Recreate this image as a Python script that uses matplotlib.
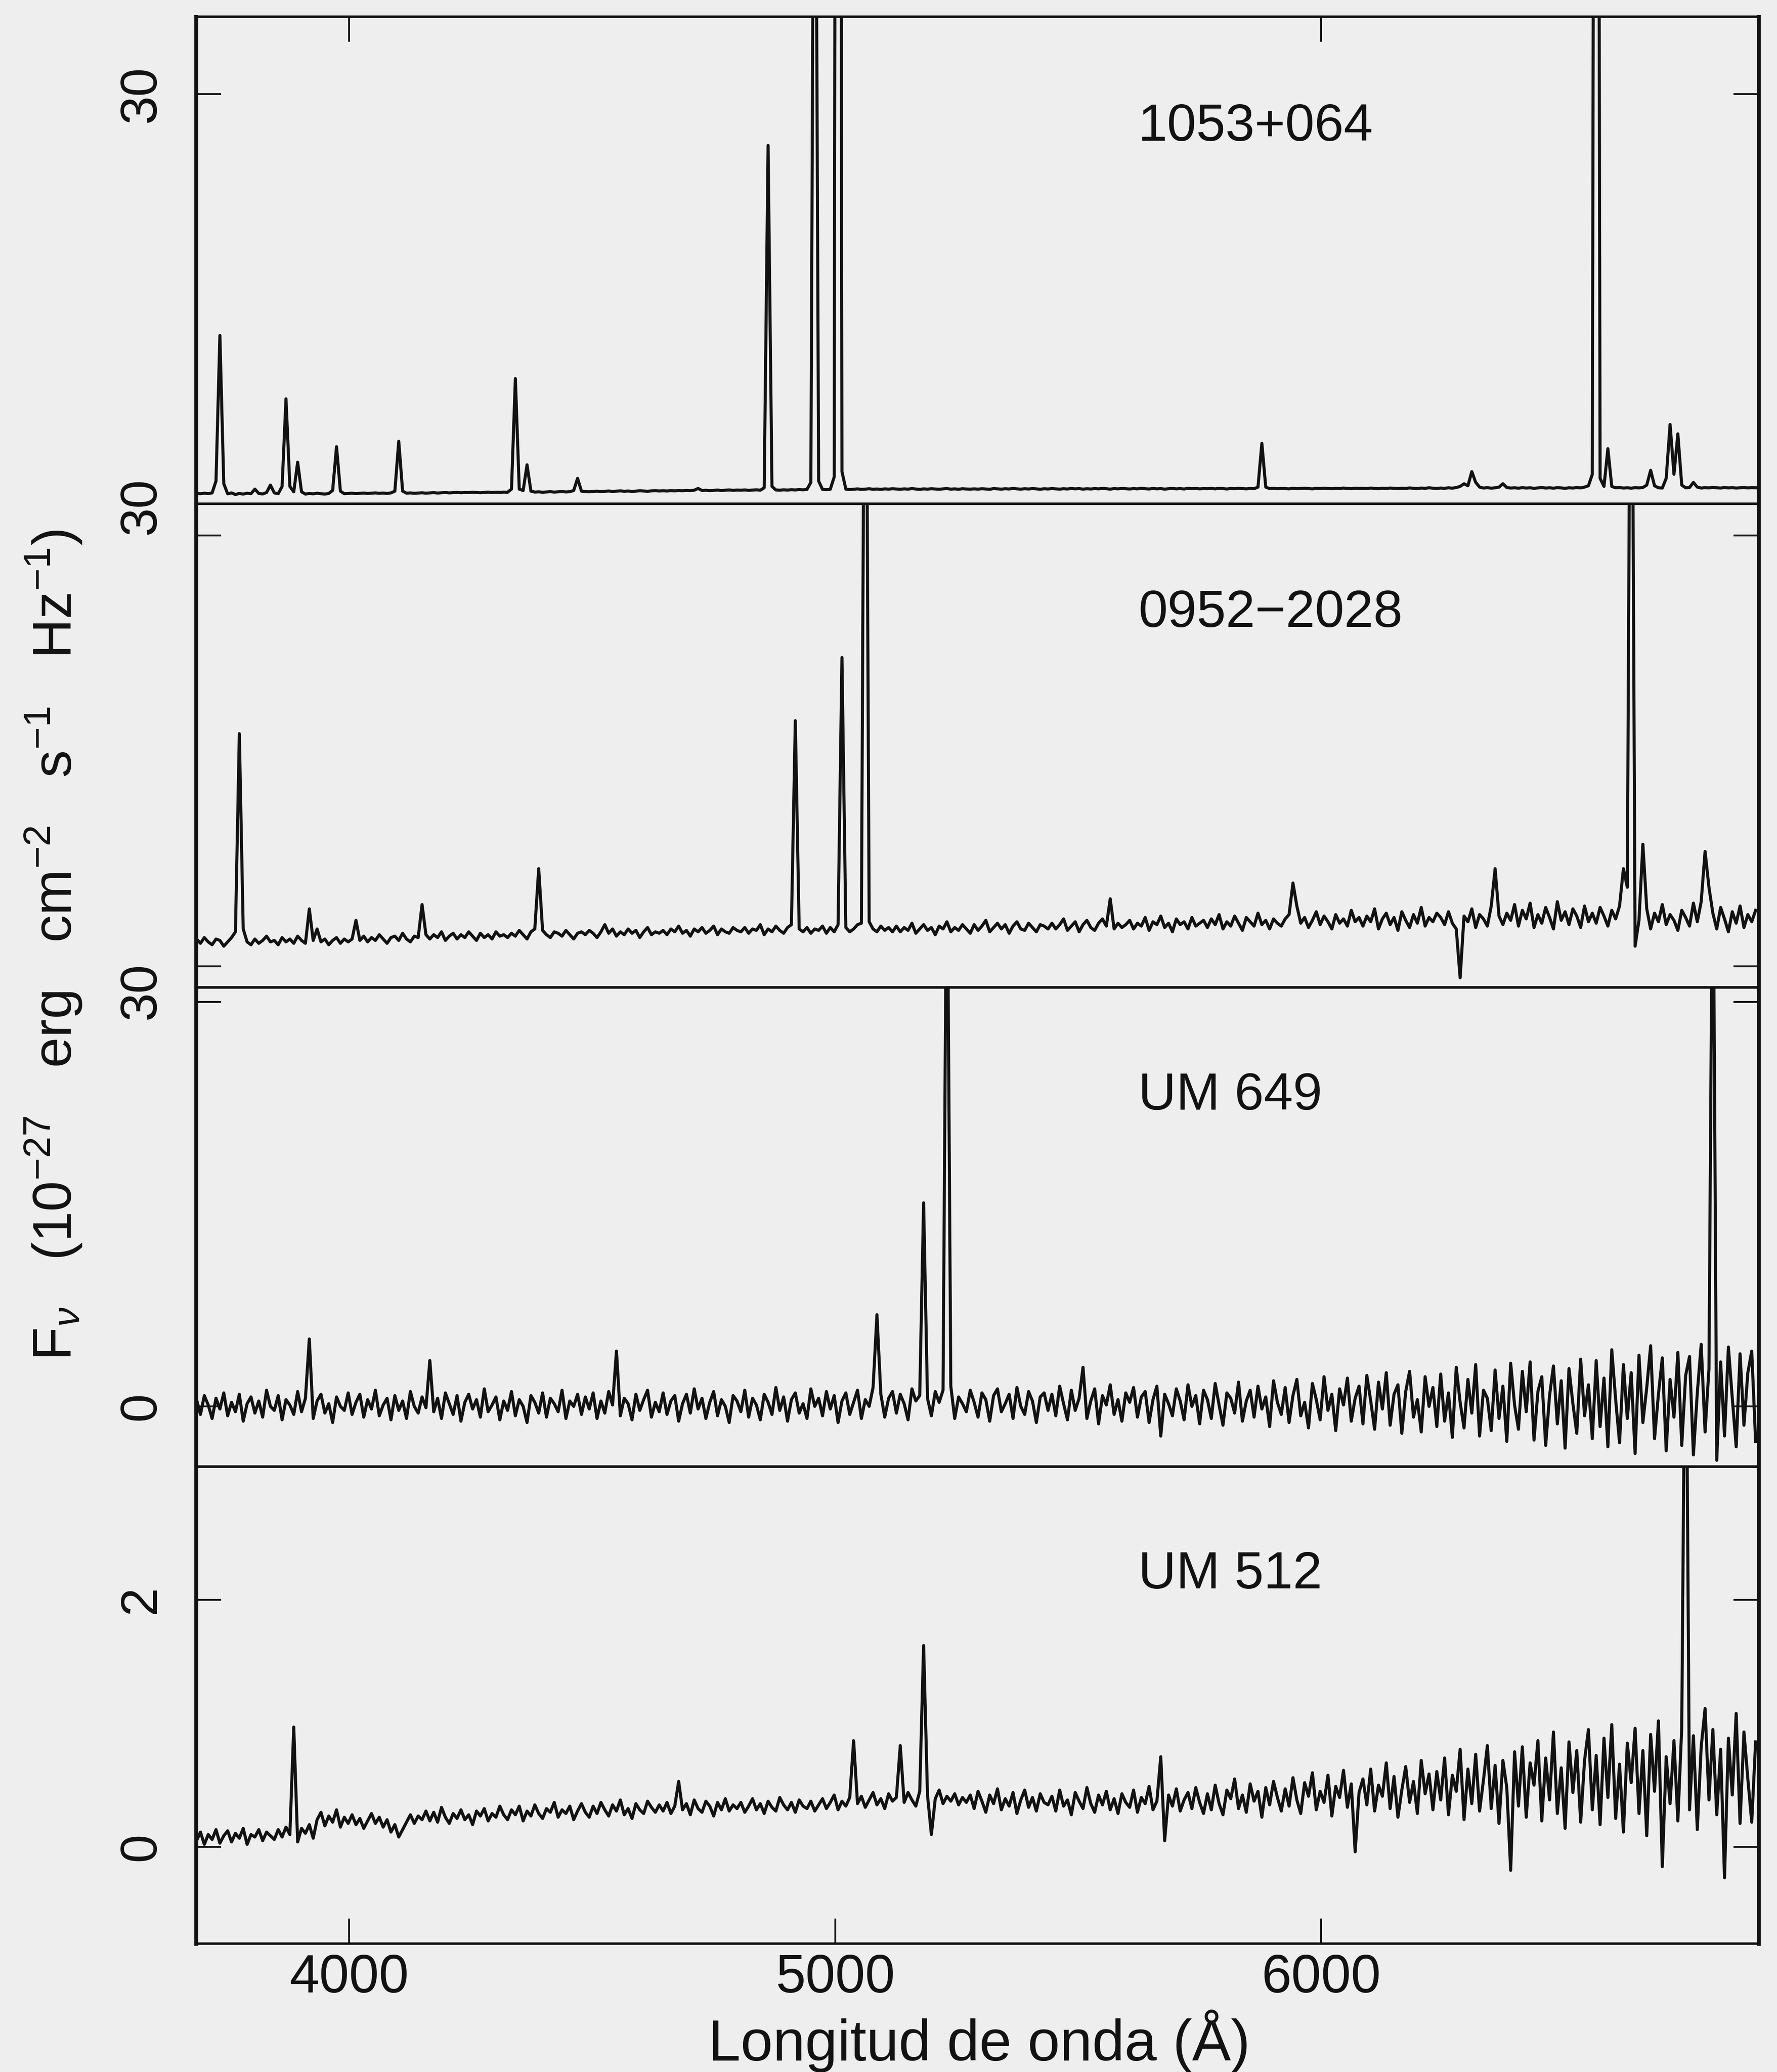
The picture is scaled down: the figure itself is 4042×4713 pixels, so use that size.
import numpy as np
import matplotlib
matplotlib.use("Agg")
import matplotlib.pyplot as plt
from matplotlib import transforms

plt.rcParams["font.family"] = ["Liberation Sans", "DejaVu Sans"]
plt.rcParams["mathtext.fontset"] = "custom"
plt.rcParams["mathtext.rm"] = "Liberation Sans"
plt.rcParams["mathtext.it"] = "Liberation Sans:italic"

# Wavelength sampling of all four spectra (Angstrom)
WAVE_START = 3686
WAVE_STEP = 8

# F_nu in units of 1e-27 erg cm^-2 s^-1 Hz^-1, one value per sample
flux_1053 = [
    0.38, 0.36, 0.40, 0.37, 0.42, 1.3, 12.1, 1.1, 0.35, 0.42, 0.30, 0.38, 0.33, 0.40, 0.36, 0.70, 0.38, 0.34, 0.45, 1.00,
    0.42, 0.36, 0.9, 7.4, 0.9, 0.5, 2.7, 0.5, 0.33, 0.38, 0.35, 0.40, 0.36, 0.33, 0.38, 0.6, 3.85, 0.55, 0.36, 0.38,
    0.40, 0.37, 0.39, 0.41, 0.38, 0.40, 0.42, 0.39, 0.41, 0.38, 0.42, 0.55, 4.25, 0.55, 0.40, 0.42, 0.39, 0.41, 0.43, 0.40,
    0.42, 0.44, 0.41, 0.43, 0.45, 0.42, 0.44, 0.46, 0.43, 0.45, 0.44, 0.47, 0.45, 0.43, 0.46, 0.48, 0.45, 0.47, 0.46, 0.48,
    0.47, 0.7, 8.9, 0.7, 0.6, 2.5, 0.55, 0.48, 0.50, 0.47, 0.49, 0.51, 0.48, 0.50, 0.52, 0.49, 0.51, 0.6, 1.5, 0.55,
    0.52, 0.50, 0.53, 0.55, 0.52, 0.54, 0.56, 0.53, 0.55, 0.57, 0.54, 0.56, 0.53, 0.55, 0.58, 0.56, 0.54, 0.57, 0.59, 0.56,
    0.58, 0.56, 0.59, 0.57, 0.60, 0.58, 0.61, 0.59, 0.62, 0.75, 0.60, 0.62, 0.59, 0.61, 0.63, 0.60, 0.62, 0.64, 0.61, 0.63,
    0.62, 0.64, 0.61, 0.63, 0.65, 0.62, 0.8, 26.2, 0.9, 0.64, 0.62, 0.65, 0.63, 0.66, 0.64, 0.67, 0.65, 0.68, 1.2, 70.0,
    1.3, 0.68, 0.66, 0.69, 1.6, 200.0, 2.0, 0.70, 0.67, 0.69, 0.72, 0.68, 0.70, 0.73, 0.69, 0.71, 0.68, 0.72, 0.70, 0.73,
    0.71, 0.69, 0.72, 0.70, 0.74, 0.71, 0.68, 0.72, 0.70, 0.73, 0.71, 0.69, 0.72, 0.74, 0.70, 0.72, 0.69, 0.73, 0.71, 0.70,
    0.72, 0.70, 0.73, 0.71, 0.69, 0.74, 0.72, 0.70, 0.73, 0.71, 0.75, 0.72, 0.70, 0.73, 0.71, 0.74, 0.72, 0.69, 0.73, 0.71,
    0.74, 0.72, 0.70, 0.73, 0.71, 0.75, 0.72, 0.74, 0.70, 0.73, 0.71, 0.74, 0.72, 0.75, 0.73, 0.70, 0.74, 0.72, 0.75, 0.73,
    0.71, 0.74, 0.72, 0.76, 0.73, 0.71, 0.75, 0.72, 0.74, 0.70, 0.73, 0.75, 0.72, 0.74, 0.71, 0.76, 0.73, 0.75, 0.72, 0.74,
    0.73, 0.75, 0.72, 0.76, 0.74, 0.71, 0.75, 0.73, 0.76, 0.74, 0.72, 0.75, 0.73, 0.85, 4.1, 0.85, 0.74, 0.76, 0.73, 0.75,
    0.74, 0.72, 0.76, 0.73, 0.75, 0.77, 0.74, 0.72, 0.76, 0.74, 0.77, 0.75, 0.73, 0.76, 0.74, 0.78, 0.75, 0.73, 0.77, 0.75,
    0.76, 0.74, 0.78, 0.75, 0.73, 0.77, 0.75, 0.78, 0.76, 0.74, 0.77, 0.75, 0.79, 0.76, 0.74, 0.78, 0.76, 0.80, 0.77, 0.75,
    0.78, 0.76, 0.80, 0.77, 0.82, 0.9, 1.1, 0.95, 2.0, 1.2, 0.85, 0.78, 0.81, 0.77, 0.80, 0.85, 1.1, 0.82, 0.78, 0.80,
    0.77, 0.81, 0.78, 0.80, 0.76, 0.79, 0.82, 0.78, 0.80, 0.77, 0.81, 0.79, 0.76, 0.80, 0.78, 0.82, 0.79, 0.85, 0.95, 1.8,
    150.0, 1.5, 0.9, 3.7, 0.9, 0.8, 0.82, 0.78, 0.80, 0.77, 0.81, 0.79, 0.82, 1.0, 2.1, 0.95, 0.80, 0.78, 1.5, 5.5,
    1.8, 4.8, 1.0, 0.80, 0.82, 1.2, 0.85, 0.78, 0.81, 0.79, 0.83, 0.80, 0.78, 0.82, 0.79, 0.81, 0.78, 0.80, 0.82, 0.79,
    0.81, 0.80,
]

flux_0952 = [
    1.9, 1.6, 2.0, 1.7, 1.5, 1.9, 1.8, 1.4, 1.7, 2.0, 2.4, 16.2, 2.6, 1.7, 1.5, 1.9, 1.6, 1.8, 2.1, 1.7,
    1.8, 1.5, 2.0, 1.7, 1.9, 1.6, 2.1, 1.8, 1.6, 4.0, 1.8, 2.6, 1.7, 1.9, 1.5, 1.8, 2.0, 1.6, 1.9, 1.7,
    1.9, 3.2, 1.8, 2.1, 1.7, 2.0, 1.8, 2.2, 1.9, 1.6, 2.0, 2.1, 1.8, 2.3, 1.9, 1.7, 2.1, 2.0, 4.3, 2.2,
    1.9, 2.2, 2.0, 2.4, 1.8, 2.1, 2.3, 1.9, 2.2, 2.0, 2.4, 2.1, 1.8, 2.3, 2.0, 2.2, 1.9, 2.4, 2.1, 2.2,
    2.0, 2.3, 2.1, 2.5, 2.2, 1.9, 2.4, 2.6, 6.8, 2.5, 2.2, 2.0, 2.4, 2.3, 2.1, 2.5, 2.2, 1.9, 2.3, 2.4,
    2.2, 2.5, 2.3, 2.0, 2.4, 2.9, 2.3, 2.6, 2.1, 2.4, 2.2, 2.6, 2.3, 2.5, 2.0, 2.4, 2.7, 2.2, 2.4, 2.3,
    2.5, 2.2, 2.6, 2.4, 2.8, 2.3, 2.5, 2.1, 2.6, 2.4, 2.7, 2.3, 2.5, 2.8, 2.2, 2.6, 2.4, 2.3, 2.7, 2.5,
    2.4, 2.7, 2.3, 2.6, 2.5, 2.9, 2.2, 2.6, 2.4, 2.8, 2.5, 2.3, 2.7, 2.9, 17.1, 2.6, 2.4, 2.7, 2.3, 2.6,
    2.5, 2.8, 2.3, 2.7, 2.4, 2.9, 21.5, 2.7, 2.4, 2.6, 2.9, 3.0, 60.0, 3.1, 2.6, 2.4, 2.8, 2.5, 2.7, 2.4,
    2.8, 2.4, 2.7, 2.5, 3.0, 2.3, 2.6, 2.9, 2.5, 2.7, 2.2, 2.8, 2.6, 3.1, 2.4, 2.7, 2.5, 2.9, 2.6, 2.3,
    2.9, 2.5, 2.8, 3.2, 2.4, 2.7, 3.0, 2.6, 2.9, 2.3, 2.8, 3.1, 2.6, 2.5, 3.0, 2.7, 2.4, 2.9, 2.8, 2.6,
    3.0, 2.6, 2.9, 3.3, 2.5, 2.8, 3.1, 2.4, 2.9, 3.2, 2.7, 2.5, 3.0, 3.3, 2.8, 4.7, 2.6, 3.0, 2.7, 2.9,
    3.2, 2.6, 3.0, 2.8, 3.4, 2.5, 3.1, 2.9, 3.5, 2.7, 3.0, 2.4, 3.3, 2.9, 3.1, 2.6, 3.4, 2.8, 3.0, 3.2,
    2.7, 3.3, 2.9, 3.6, 2.6, 3.1, 2.8, 3.5, 3.0, 2.5, 3.4, 3.1, 2.8, 3.7, 2.9, 3.2, 2.6, 3.3, 3.0, 2.8,
    3.3, 3.6, 5.8, 4.2, 3.0, 3.4, 2.7, 3.2, 3.8, 2.9, 3.5, 3.1, 2.6, 3.6, 3.0, 3.3, 2.8, 3.9, 3.1, 3.4,
    2.8, 3.5, 3.1, 4.0, 2.6, 3.3, 3.7, 2.9, 3.4, 2.5, 3.8, 3.2, 2.7, 3.6, 3.0, 4.1, 2.8, 3.4, 3.1, 3.7,
    3.4, 2.9, 3.8, 3.0, 2.6, -0.8, 3.5, 3.1, 4.0, 2.7, 3.6, 3.3, 2.8, 4.2, 6.8, 3.5, 2.9, 3.7, 3.2, 4.3,
    2.8, 3.9, 3.3, 4.4, 2.7, 3.6, 3.0, 4.1, 3.4, 2.6, 4.5, 3.2, 3.8, 2.9, 4.0, 3.5, 2.7, 4.2, 3.1, 3.7,
    3.0, 4.1, 3.5, 2.8, 3.9, 3.3, 4.2, 6.8, 5.5, 60.0, 1.4, 3.2, 8.5, 4.0, 2.6, 3.7, 3.1, 4.3, 2.9, 3.6,
    3.2, 2.5, 3.9, 3.4, 2.8, 4.4, 3.1, 4.5, 8.0, 5.5, 3.7, 2.6, 4.1, 3.3, 2.4, 3.8, 3.0, 4.2, 2.7, 3.6,
    3.1, 3.9,
]

flux_um649 = [
    0.5, -0.6, 0.8, 0.1, -0.9, 0.6, -0.2, 1.0, -0.7, 0.3, -0.4, 0.9, -1.1, 0.2, 0.7, -0.5, 0.4, -0.8, 1.2, 0.0,
    -0.3, 0.8, -1.0, 0.5, 0.1, -0.6, 1.1, -0.4, 0.6, 5.0, -0.9, 0.4, 0.9, -0.5, 0.2, -1.2, 0.7, 0.0, -0.3, 1.0,
    -0.6, 0.3, 0.9, -0.8, 0.5, -0.2, 1.2, -0.7, 0.1, 0.6, -1.0, 0.8, -0.3, 0.4, -0.9, 1.1, 0.0, -0.5, 0.7, -0.1,
    3.4, -0.4, 0.6, -0.9, 1.0, 0.2, -0.6, 0.8, -1.1, 0.3, 0.9, -0.2, 0.5, -0.8, 1.3, -0.4, 0.1, 0.7, -1.0, 0.4,
    -0.3, 1.1, -0.7, 0.5, 0.0, -1.2, 0.8, 0.3, -0.5, 1.0, -0.8, 0.6, 0.2, -0.4, 1.2, -0.9, 0.4, 0.0, 0.9, -0.6,
    0.7, -0.2, 1.0, -0.9, 0.4, -0.5, 1.1, 0.1, 4.1, -0.7, 0.6, 0.2, -1.0, 0.9, -0.3, 0.5, 1.2, -0.8, 0.3, -0.4,
    1.0, -0.6, 0.4, 0.8, -1.1, 0.2, 0.9, -0.5, 1.3, -0.2, 0.6, -0.9, 0.3, 1.1, -0.7, 0.5, 0.0, -1.2, 0.8, 0.4,
    -0.4, 1.2, -0.8, 0.6, 0.1, -1.0, 0.9, 0.3, -0.6, 1.4, -0.3, 0.7, -1.1, 0.5, 1.0, -0.5, 0.2, -0.9, 1.3, 0.0,
    0.6, -0.7, 1.1, -0.2, 0.8, -1.2, 0.4, 1.0, -0.6, 0.3, 1.2, -0.9, 0.5, 0.0, 1.4, 6.8, 0.9, -0.8, 0.6, 1.1,
    -0.5, 0.9, 0.2, -1.0, 1.3, 0.4, 0.8, 15.1, 0.6, -0.7, 1.1, 0.3, 1.2, 45.0, 1.5, -0.9, 0.7, 0.2, -0.4, 1.2,
    0.3, -0.8, 1.0, 0.5, -1.1, 0.8, 1.3, -0.4, 0.2, 0.9, -0.9, 1.4, 0.0, -0.6, 1.1, 0.4, -1.2, 0.7, 1.0, -0.3,
    0.9, -0.7, 1.5, 0.2, -1.0, 1.2, -0.3, 0.6, 2.9, -0.9, 0.4, 1.3, -1.3, 0.8, 0.1, 1.6, -0.6, 0.5, -1.1, 1.0,
    0.3, 1.4, -0.8, 0.7, 1.1, -1.2, 0.5, 1.5, -2.2, 0.9, 0.2, -0.7, 1.3, 0.4, -1.0, 1.6, 0.0, 0.8, -1.3, 1.2,
    0.5, -0.9, 1.7, 0.1, -1.4, 1.0, 0.6, -0.5, 1.8, -1.1, 0.4, 1.2, -0.8, 1.5, -0.2, 0.7, -1.5, 1.9, 0.3, -0.6,
    1.4, -1.2, 0.8, 2.0, -0.7, 0.3, -1.6, 1.7, 0.5, -1.0, 2.2, -0.3, 0.9, -1.8, 1.3, 0.1, 2.1, -1.1, 0.6, 1.5,
    -1.3, 2.3, 0.4, -1.7, 1.8, -0.2, 2.5, -1.4, 0.9, 1.6, -2.0, 1.1, 2.6, -0.8, 0.5, -1.9, 2.2, 0.0, 1.4, -1.5,
    2.4, -1.1, 1.0, -2.3, 2.9, 0.3, -1.6, 2.0, -0.5, 3.1, -2.2, 1.2, 0.6, -1.8, 2.7, -0.9, 1.5, -2.6, 3.2, 0.1,
    -1.7, 2.6, -0.4, 3.3, -2.5, 1.1, 2.2, -2.9, 0.8, 3.0, -1.3, 1.9, -3.1, 2.8, 0.2, -2.0, 3.5, -0.7, 1.6, -2.4,
    3.4, -1.5, 2.1, -3.0, 4.2, 0.5, -2.7, 3.1, -0.9, 2.5, -3.5, 3.8, -1.2, 1.4, 4.5, -2.4, 0.9, 3.6, -3.3, 2.0,
    -0.8, 4.0, -2.9, 2.3, 3.7, -3.6, 1.0, 4.6, -1.9, 2.8, 45.0, -4.0, 3.3, -2.2, 4.4, 0.6, -3.0, 3.9, -1.4, 2.5,
    4.1, -2.6,
]

flux_um512 = [
    0.05, 0.12, 0.02, 0.10, 0.06, 0.14, 0.03, 0.09, 0.13, 0.04, 0.11, 0.07, 0.15, 0.02, 0.10, 0.08, 0.14, 0.05, 0.12, 0.09,
    0.06, 0.14, 0.08, 0.16, 0.10, 0.97, 0.04, 0.15, 0.11, 0.18, 0.07, 0.22, 0.28, 0.17, 0.25, 0.20, 0.30, 0.16, 0.24, 0.19,
    0.26, 0.18, 0.23, 0.15, 0.21, 0.27, 0.19, 0.24, 0.16, 0.22, 0.12, 0.18, 0.08, 0.14, 0.20, 0.26, 0.19, 0.25, 0.22, 0.29,
    0.21, 0.28, 0.20, 0.32, 0.24, 0.19, 0.27, 0.23, 0.30, 0.22, 0.26, 0.18, 0.29, 0.25, 0.31, 0.21, 0.27, 0.24, 0.33, 0.26,
    0.22, 0.30, 0.26, 0.33, 0.21, 0.29, 0.25, 0.34, 0.27, 0.23, 0.31, 0.28, 0.36, 0.24, 0.30, 0.27, 0.33, 0.22, 0.29, 0.35,
    0.28, 0.24, 0.33, 0.27, 0.36, 0.30, 0.25, 0.34, 0.29, 0.38, 0.26, 0.31, 0.23, 0.35, 0.30, 0.27, 0.37, 0.32, 0.28, 0.34,
    0.29, 0.36, 0.27, 0.33, 0.53, 0.30, 0.35, 0.26, 0.38, 0.31, 0.28, 0.37, 0.33, 0.25, 0.36, 0.30, 0.39, 0.29, 0.34, 0.31,
    0.36, 0.28, 0.33, 0.39, 0.30, 0.35, 0.27, 0.37, 0.32, 0.29, 0.40, 0.34, 0.30, 0.36, 0.28, 0.38, 0.33, 0.31, 0.37, 0.29,
    0.34, 0.39, 0.31, 0.36, 0.42, 0.30, 0.37, 0.33, 0.40, 0.86, 0.35, 0.41, 0.32, 0.38, 0.44, 0.34, 0.39, 0.31, 0.43, 0.37,
    0.40, 0.82, 0.36, 0.44, 0.38, 0.33, 0.45, 1.63, 0.42, 0.10, 0.39, 0.46, 0.35, 0.41, 0.37, 0.43, 0.34, 0.40, 0.36, 0.42,
    0.31, 0.45, 0.37, 0.28, 0.42, 0.35, 0.47, 0.30, 0.39, 0.33, 0.44, 0.27, 0.38, 0.46, 0.32, 0.40, 0.29, 0.43, 0.36, 0.34,
    0.41, 0.29, 0.46, 0.33, 0.38, 0.26, 0.44, 0.37, 0.31, 0.48, 0.35, 0.28, 0.42, 0.34, 0.45, 0.30, 0.39, 0.27, 0.43, 0.36,
    0.32, 0.46, 0.28, 0.40, 0.35, 0.49, 0.30, 0.37, 0.73, 0.05, 0.42, 0.33, 0.47, 0.29, 0.38, 0.44, 0.31, 0.48, 0.36, 0.27,
    0.43, 0.30, 0.50, 0.35, 0.26, 0.46, 0.39, 0.55, 0.31, 0.42, 0.28, 0.51, 0.37, 0.45, 0.24, 0.48, 0.34, 0.53, 0.40, 0.29,
    0.47, 0.33, 0.56, 0.38, 0.27, 0.52, 0.41, 0.60, 0.30, 0.45, 0.36, 0.58, 0.25, 0.49, 0.40, 0.62, 0.32, 0.51, -0.04, 0.44,
    0.55, 0.34, 0.63, 0.29, 0.50, 0.41, 0.68, 0.31, 0.57, 0.24, 0.46, 0.65, 0.36, 0.53, 0.27, 0.70, 0.43, 0.59, 0.30, 0.61,
    0.38, 0.72, 0.26, 0.58, 0.45, 0.79, 0.22, 0.63, 0.35, 0.75, 0.29, 0.54, 0.82, 0.31, 0.66, 0.19, 0.70, 0.48, -0.19, 0.77,
    0.33, 0.81, 0.24, 0.68, 0.50, 0.86, 0.21, 0.72, 0.38, 0.93, 0.27, 0.64, 0.15, 0.85, 0.44, 0.78, 0.20, 0.70, 0.95, 0.30,
    0.74, 0.18, 0.88, 0.40, 0.99, 0.23, 0.67, 0.12, 0.84, 0.52, 0.96, 0.27, 0.78, 0.09, 0.91, 0.45, 1.02, -0.16, 0.73, 0.35,
    0.86, 0.21, 0.97, 5.0, 0.30, 0.90, 0.14, 0.81, 1.12, 0.38, 0.95, 0.26, 0.79, -0.25, 0.88, 0.42, 1.08, 0.19, 0.93, 0.55,
    0.20, 0.85,
]

object_names = ["1053+064", "0952\u22122028", "UM 649", "UM 512"]
spectra = [flux_1053, flux_0952, flux_um649, flux_um512]
y_tick_values = [[30], [0, 30], [0, 30], [0, 2]]
# labels drawn on the ticks themselves
y_tick_labels = [["30"], ["", ""], ["0", ""], ["0", "2"]]
# labels that sit on the shared panel borders: (panel, data y)
border_labels = [(1, 32.05, "30"), (2, 30.8, "30")]
x_tick_values = [4000, 5000, 6000]
x_tick_labels = ["4000", "5000", "6000"]

# ---- figure layout -------------------------------------------------------
W_PX, H_PX = 4042, 4713
fig = plt.figure(figsize=(W_PX / 100, H_PX / 100), dpi=100, facecolor="#eeeeee")

left = 446 / W_PX
width = (4000 - 446) / W_PX
edges_px = [38, 1146, 2246, 3336, 4421]          # panel borders from the top
y_limits = [(-0.39, 35.74), (-1.47, 32.20), (-4.47, 31.08), (-0.783, 3.078)]

ink = "#121212"
LABEL_PAD = 50
axes = []
for k in range(4):
    top_px, bot_px = edges_px[k], edges_px[k + 1]
    ax = fig.add_axes([left, 1 - bot_px / H_PX, width, (bot_px - top_px) / H_PX])
    ax.set_facecolor("none")
    axes.append(ax)

    flux = np.asarray(spectra[k], dtype=float)
    wave = WAVE_START + WAVE_STEP * np.arange(flux.size)
    ax.plot(wave, flux, color=ink, lw=5.0, solid_joinstyle="round")

    ax.set_xlim(3685, 6900)
    ax.set_ylim(*y_limits[k])

    for side in ("left", "right"):
        ax.spines[side].set_linewidth(6.5)
    for side in ("top", "bottom"):
        ax.spines[side].set_linewidth(4.0)
    for sp in ax.spines.values():
        sp.set_color(ink)

    ax.set_yticks(y_tick_values[k])
    ax.set_yticklabels(y_tick_labels[k])
    ax.tick_params(axis="y", which="both", direction="in", left=True, right=True,
                   length=41, width=3.0, color=ink, labelsize=84, pad=LABEL_PAD,
                   labelrotation=90, labelcolor=ink)
    for lab in ax.get_yticklabels():
        lab.set_va("center")

    ax.set_xticks(x_tick_values)
    ax.set_xticklabels(x_tick_labels)
    ax.tick_params(axis="x", which="both", direction="in", length=41, width=3.0,
                   color=ink, top=(k == 0), bottom=(k == 3),
                   labelbottom=(k == 3), labelsize=88, pad=16, labelcolor=ink)

    ax.text(0.603, 0.773, object_names[k], transform=ax.transAxes,
            ha="left", va="center", fontsize=86, color=ink)

for k, yval, txt in border_labels:
    ax = axes[k]
    trans = transforms.blended_transform_factory(ax.transAxes, ax.transData)
    off = transforms.ScaledTranslation(-LABEL_PAD / 72, 0, fig.dpi_scale_trans)
    ax.text(0, yval, txt, transform=trans + off, rotation=90, ha="right",
            va="center", fontsize=84, color=ink, clip_on=False)

fig.text(0.551, 1 - 4643 / H_PX, "Longitud de onda (\u00c5)", ha="center",
         va="center", fontsize=95, color=ink)
fig.text(122 / W_PX, 1 - 2150 / H_PX,
         r"F$_\nu$   (10$^{-27}$   erg   cm$^{-2}$   s$^{-1}$   Hz$^{-1}$)",
         rotation=90, ha="center", va="center", fontsize=90, color=ink)

fig.savefig("out.png", dpi=100, facecolor=fig.get_facecolor())
